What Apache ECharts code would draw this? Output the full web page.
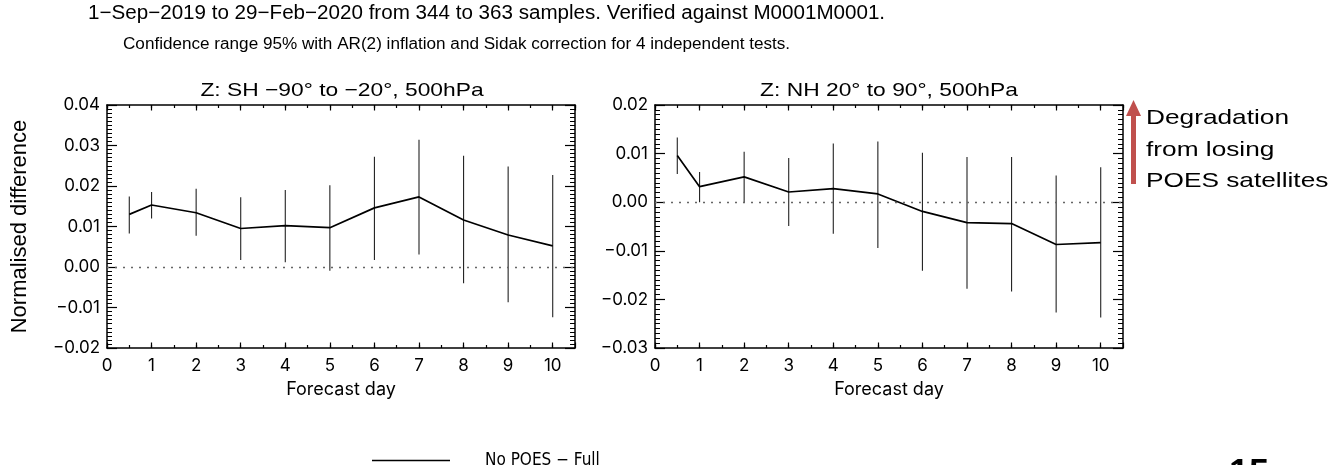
<!DOCTYPE html>
<html>
<head>
<meta charset="utf-8">
<script src="https://cdn.jsdelivr.net/npm/echarts@6/dist/echarts.min.js"></script>
<style>html,body{margin:0;padding:0;background:#fff}#c{width:1330px;height:465px}</style>
</head>
<body>
<div id="c"></div>
<script>
// ---- data ----
const days = [0.5, 1, 2, 3, 4, 5, 6, 7, 8, 9, 10];
const shMean = [0.0130, 0.0153, 0.0134, 0.0095, 0.0102, 0.0097, 0.0146, 0.0173, 0.0116, 0.0079, 0.0052];
const shLow  = [0.0083, 0.0120, 0.0077, 0.0017, 0.0012, -0.0009, 0.0017, 0.0031, -0.0040, -0.0087, -0.0124];
const shHigh = [0.0174, 0.0185, 0.0193, 0.0172, 0.0190, 0.0202, 0.0272, 0.0314, 0.0275, 0.0248, 0.0227];
const nhMean = [0.0096, 0.0032, 0.0052, 0.0021, 0.0028, 0.0017, -0.0019, -0.0042, -0.0044, -0.0087, -0.0083];
const nhLow  = [0.0058, 0.0000, 0.0000, -0.0049, -0.0065, -0.0094, -0.0141, -0.0178, -0.0184, -0.0227, -0.0237];
const nhHigh = [0.0133, 0.0062, 0.0104, 0.0091, 0.0121, 0.0125, 0.0102, 0.0093, 0.0093, 0.0055, 0.0072];
const xTicks = [0, 1, 2, 3, 4, 5, 6, 7, 8, 9, 10];
const shRange = [-0.02, 0.04];
const nhRange = [-0.03, 0.02];
const seriesName = 'No POES \u2212 Full';

const FONT = 'Liberation Sans, Arial, Helvetica, sans-serif';
const AFONT = 'Inter, Liberation Sans, Arial, sans-serif';
const chart = echarts.init(document.getElementById('c'));

const fmtY = v => (v < -1e-9 ? '\u2212' : '') + Math.abs(v).toFixed(2);
const fmtX = v => (xTicks.indexOf(Math.round(v * 1000) / 1000) >= 0 ? String(v) : '');

function xAxes(gi) {
  const base = { type: 'value', gridIndex: gi, min: 0, max: 10.5, splitLine: { show: false } };
  const line = { show: true, onZero: false, lineStyle: { color: '#000', width: 1.5 } };
  const noLine = { show: false, onZero: false };
  return [
    Object.assign({}, base, { position: 'bottom', interval: 0.5, axisLine: line,
      axisTick: { inside: true, length: 3, lineStyle: { color: '#000', width: 1.2 } },
      axisLabel: { formatter: fmtX, margin: 9, color: '#000', fontSize: 17, fontFamily: AFONT, showMaxLabel: false },
      name: 'Forecast day', nameLocation: 'middle', nameGap: 33,
      nameTextStyle: { color: '#000', fontSize: 18, fontFamily: AFONT } }),
    Object.assign({}, base, { position: 'bottom', interval: 1, axisLine: noLine,
      axisTick: { inside: true, length: 5.5, lineStyle: { color: '#000', width: 1.2 } }, axisLabel: { show: false } }),
    Object.assign({}, base, { position: 'top', interval: 0.5, axisLine: line,
      axisTick: { inside: true, length: 3, lineStyle: { color: '#000', width: 1.2 } }, axisLabel: { show: false } }),
    Object.assign({}, base, { position: 'top', interval: 1, axisLine: noLine,
      axisTick: { inside: true, length: 5.5, lineStyle: { color: '#000', width: 1.2 } }, axisLabel: { show: false } })
  ];
}
function yAxes(gi, range, withName) {
  const base = { type: 'value', gridIndex: gi, min: range[0], max: range[1], interval: 0.01,
    splitLine: { show: false },
    axisLine: { show: true, onZero: false, lineStyle: { color: '#000', width: 1.5 } },
    axisTick: { inside: true, length: 10, lineStyle: { color: '#000', width: 1.2 } },
    minorTick: { show: true, splitNumber: 10, length: 5, lineStyle: { color: '#000', width: 1 } } };
  const left = Object.assign({}, base, { position: 'left',
    axisLabel: { formatter: fmtY, margin: 7, color: '#000', fontSize: 17, fontFamily: AFONT } });
  if (withName) {
    left.name = 'Normalised difference';
    left.nameLocation = 'middle';
    left.nameGap = 76;
    left.nameTextStyle = { color: '#000', fontSize: 22, fontFamily: FONT };
  }
  const right = Object.assign({}, base, { position: 'right', axisLabel: { show: false } });
  return [left, right];
}

function errBars(gi, lo, hi) {
  return {
    type: 'custom', xAxisIndex: gi * 4, yAxisIndex: gi * 2, silent: true, z: 3,
    data: days.map((d, i) => [d, lo[i], hi[i]]),
    renderItem: function (params, api) {
      const p1 = api.coord([api.value(0), api.value(1)]);
      const p2 = api.coord([api.value(0), api.value(2)]);
      return { type: 'line', shape: { x1: p1[0], y1: p1[1], x2: p2[0], y2: p2[1] },
        style: { stroke: '#222', lineWidth: 1.1 } };
    }
  };
}
function meanLine(gi, mean) {
  return {
    type: 'line', name: seriesName, xAxisIndex: gi * 4, yAxisIndex: gi * 2, z: 4,
    data: days.map((d, i) => [d, mean[i]]), symbol: 'none', silent: true,
    lineStyle: { color: '#000', width: 1.7 }, itemStyle: { color: '#000' },
    markLine: { silent: true, symbol: 'none', label: { show: false },
      lineStyle: { color: '#666', type: [2, 6], width: 1.4 },
      data: [{ yAxis: 0 }] }
  };
}

const txt = (x, y, s, size, opt) => Object.assign({ type: 'text', x: x, y: y,
  style: Object.assign({ text: s, fill: '#000', font: size + 'px ' + FONT, textVerticalAlign: 'middle' }, (opt && opt.style) || {}) },
  (opt && opt.el) || {});

chart.setOption({
  animation: false,
  backgroundColor: '#fff',
  grid: [
    { left: 107, top: 105, width: 468, height: 243, containLabel: false },
    { left: 655, top: 105, width: 468, height: 243, containLabel: false }
  ],
  xAxis: xAxes(0).concat(xAxes(1)),
  yAxis: yAxes(0, shRange, true).concat(yAxes(1, nhRange, false)),
  legend: {
    data: [seriesName], left: 367, top: 447, itemWidth: 78, itemHeight: 28,
    icon: 'path://M0,19L78,19L78,20.6L0,20.6Z',
    itemStyle: { color: '#000' },
    textStyle: { color: '#000', fontSize: 17, fontFamily: 'Liberation Sans Narrow, DejaVu Sans Condensed, sans-serif', padding: [0, 0, 16, 30] }
  },
  series: [
    errBars(0, shLow, shHigh), meanLine(0, shMean),
    errBars(1, nhLow, nhHigh), meanLine(1, nhMean)
  ],
  graphic: [
    txt(88, 13, '1\u2212Sep\u22122019 to 29\u2212Feb\u22122020 from 344 to 363 samples. Verified against M0001M0001.', 20, { el: { scaleX: 1.03 } }),
    txt(123, 45, 'Confidence range 95% with AR(2) inflation and Sidak correction for 4 independent tests.', 16, { el: { scaleX: 1.07 } }),
    txt(342, 91, 'Z: SH \u221290\u00b0 to \u221220\u00b0, 500hPa', 19, { style: { textAlign: 'center' }, el: { scaleX: 1.2 } }),
    txt(889, 91, 'Z: NH 20\u00b0 to 90\u00b0, 500hPa', 19, { style: { textAlign: 'center' }, el: { scaleX: 1.2 } }),
    { type: 'rect', shape: { x: 1131, y: 114, width: 5, height: 70 }, style: { fill: '#c0504d' } },
    { type: 'polygon', shape: { points: [[1126, 116], [1141, 116], [1133.5, 100]] }, style: { fill: '#c0504d' } },
    txt(1146, 118, 'Degradation', 21, { el: { scaleX: 1.25 } }),
    txt(1146, 150, 'from losing', 21, { el: { scaleX: 1.25 } }),
    txt(1146, 181, 'POES satellites', 21, { el: { scaleX: 1.25 } }),
    txt(1229, 475, '15', 36, { style: { font: 'bold 36px ' + FONT } })
  ]
});
</script>
</body>
</html>
